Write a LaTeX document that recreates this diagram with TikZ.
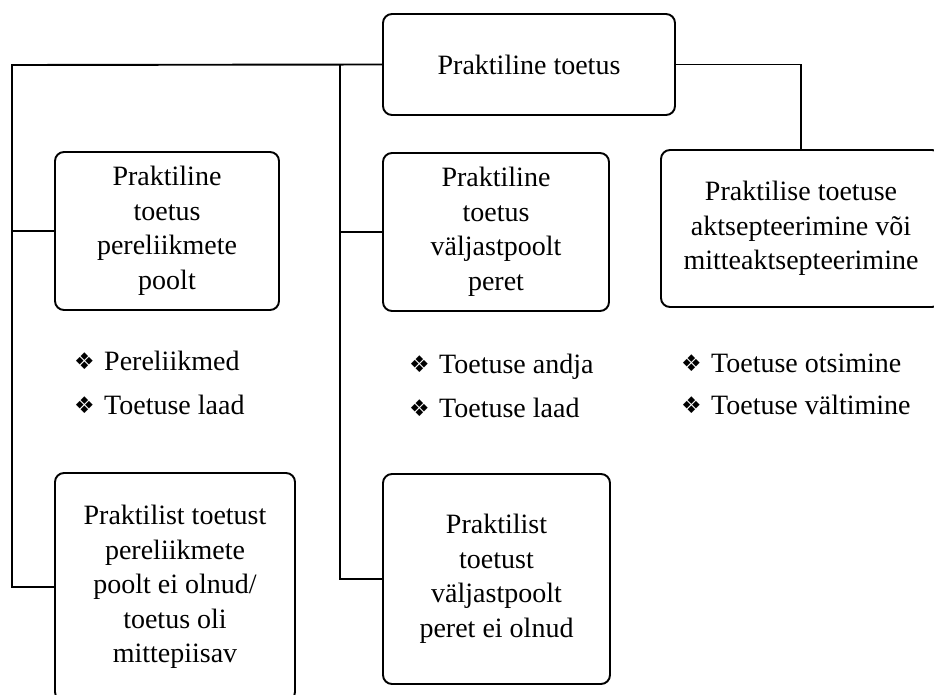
\documentclass[tikz,border=0pt]{standalone}
\usepackage{fontspec}
\setmainfont{Liberation Serif}
\newfontfamily\symfont{DejaVu Sans}
\begin{document}
\begin{tikzpicture}[x=1pt,y=-1pt,
  box/.style={draw=black,line width=1.9pt,rounded corners=9pt,align=center,
    inner sep=0pt,font=\fontsize{28}{34.5}\selectfont},
  item/.style={anchor=base west,inner sep=0pt,font=\fontsize{28}{34.5}\selectfont},
  link/.style={draw=black,line width=1.9pt}]
\newcommand{\bul}{\makebox[30pt][l]{\raisebox{1pt}{\symfont\fontsize{23}{23}\selectfont ❖}}}
\useasboundingbox (0,0) rectangle (934,695);
\clip (0,0) rectangle (934,695);
\fill[white] (0,0) rectangle (934,695);

% main boxes
\node[box,minimum width=292pt,minimum height=101pt] (top) at (529,64.5) {Praktiline toetus};
\node[box,minimum width=224pt,minimum height=158pt] (fam) at (167,231) {Praktiline\\toetus\\pereliikmete\\poolt};
\node[box,minimum width=226pt,minimum height=158pt] (out) at (496,232) {Praktiline\\toetus\\väljastpoolt\\peret};
\node[box,minimum width=280pt,minimum height=157pt] (acc) at (801,228.5) {Praktilise toetuse\\aktsepteerimine või\\mitteaktsepteerimine};
\node[box,minimum width=240pt,minimum height=228pt] (nofam) at (175,587) {Praktilist toetust\\pereliikmete\\poolt ei olnud/\\toetus oli\\mittepiisav};
\node[box,minimum width=227pt,minimum height=210pt] (noout) at (496.5,579) {Praktilist\\toetust\\väljastpoolt\\peret ei olnud};

% bullet lists
\node[item] (f1) at (74,370) {\bul Pereliikmed};
\node[item] (f2) at (74,414) {\bul Toetuse laad};
\node[item] (o1) at (409,373) {\bul Toetuse andja};
\node[item] (o2) at (409,417) {\bul Toetuse laad};
\node[item] (a1) at (681,372) {\bul Toetuse otsimine};
\node[item] (a2) at (681,414) {\bul Toetuse vältimine};

% spines
\coordinate (spL) at (12,65);
\coordinate (spM) at (340,65);

% connectors
\draw[link] (top.west) -- (spL) -- (spL |- nofam.west) -- (nofam.west);
\draw[link] (spL |- fam.west) -- (fam.west);
\draw[link] (spM) -- (spM |- noout.west) -- (noout.west);
\draw[link] (spM |- out.west) -- (out.west);
\draw[link] (top.east) -| (acc.north);
\end{tikzpicture}
\end{document}
